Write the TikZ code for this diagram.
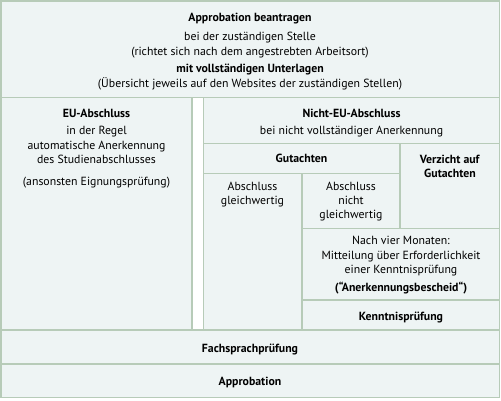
\documentclass[tikz,border=0pt]{standalone}
\usepackage{fontspec}
\setmainfont{PT Sans}
\definecolor{cellfill}{HTML}{EEF4F4}
\definecolor{cellline}{HTML}{B7CBB8}
\tikzset{
  cell/.style={fill=cellfill,draw=cellline,line width=1.6pt},
  txt/.style={inner sep=0pt,align=center,font=\fontsize{11.8}{14.4}\selectfont,anchor=north},
}
\begin{document}
\begin{tikzpicture}[x=1pt,y=-1pt]
\useasboundingbox (0,0) rectangle (501,400);
% cells
\draw[cell] (0.8,0.8) rectangle (499.3,97.5);
\draw[cell] (0.8,97.5) rectangle (192,330);
\draw[cell] (203.3,97.5) rectangle (499.3,143.3);
\draw[cell] (203.3,143.3) rectangle (400,173.3);
\draw[cell] (400,143.3) rectangle (499.3,228.3);
\draw[cell] (203.3,173.3) rectangle (301.7,330);
\draw[cell] (301.7,173.3) rectangle (400,228.3);
\draw[cell] (301.7,228.3) rectangle (499.3,300);
\draw[cell] (301.7,300) rectangle (499.3,330);
\draw[cell] (0.8,330) rectangle (499.3,364);
\draw[cell] (0.8,364) rectangle (499.3,397.5);
% texts
\node[txt] (top) at (250,12.5) {\textbf{Approbation beantragen}\\[5.5pt]bei der zuständigen Stelle\\(richtet sich nach dem angestrebten Arbeitsort)\\[3pt]\textbf{mit vollständigen Unterlagen}\\(Übersicht jeweils auf den Websites der zuständigen Stellen)};
\node[txt] (eu) at (96.5,109) {\textbf{EU-Abschluss}\\[3pt]in der Regel\\automatische Anerkennung\\des Studienabschlusses\\[7pt](ansonsten Eignungsprüfung)};
\node[txt] (neu) at (351.5,108.5) {\textbf{Nicht-EU-Abschluss}\\[3pt]bei nicht vollständiger Anerkennung};
\node[txt] (gut) at (301.5,153.5) {\textbf{Gutachten}};
\node[txt] (verz) at (450,154.5) {\textbf{Verzicht auf}\\\textbf{Gutachten}};
\node[txt] (gleich) at (252.5,181.5) {Abschluss\\gleichwertig};
\node[txt] (ngleich) at (351,181.5) {Abschluss\\nicht\\gleichwertig};
\node[txt] (nach) at (401,235.5) {Nach vier Monaten:\\[1pt]Mitteilung über Erforderlichkeit\\einer Kenntnisprüfung\\[3pt]\textbf{(“Anerkennungsbescheid“)}};
\node[txt] (kennt) at (401,311.5) {\textbf{Kenntnisprüfung}};
\node[txt] (fach) at (250,343.5) {\textbf{Fachsprachprüfung}};
\node[txt] (appr) at (250,376.5) {\textbf{Approbation}};
\end{tikzpicture}
\end{document}
